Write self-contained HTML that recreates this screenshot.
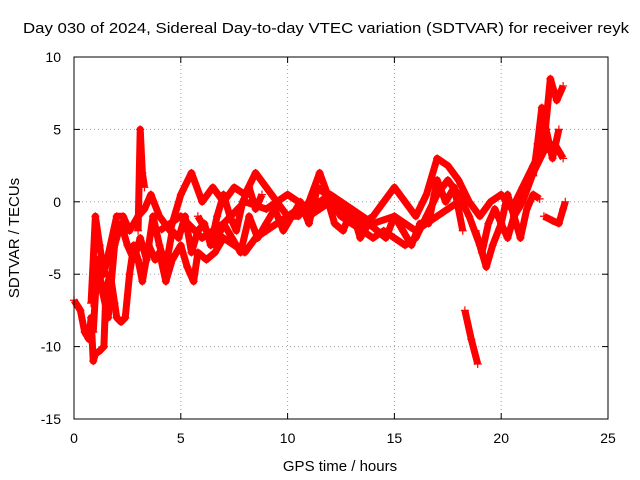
<!DOCTYPE html>
<html><head><meta charset="utf-8"><style>
body{margin:0;background:#fff}
svg{display:block;font-family:"Liberation Sans",sans-serif}
</style></head><body>
<svg id="chart" width="640" height="480">
<text x="326" y="33" font-size="15" text-anchor="middle" textLength="606" lengthAdjust="spacingAndGlyphs">Day 030 of 2024, Sidereal Day-to-day VTEC variation (SDTVAR) for receiver reyk</text>
<text x="340" y="471" font-size="15" text-anchor="middle">GPS time / hours</text>
<text x="19" y="238" font-size="15" text-anchor="middle" transform="rotate(-90 19 238)">SDTVAR / TECUs</text>
<g id="grid"></g><g id="marks"></g>
<rect x="74" y="57" width="534" height="362" fill="none" stroke="#000" stroke-width="1"/>
</svg>
<script>
const xTicks=[0,5,10,15,20,25];
const yTicks=[-15,-10,-5,0,5,10];
const trackA_t=[0,0.3,0.5,0.7,0.8,0.9,1.0,1.2,1.4,1.5,1.7,1.9,2.0,2.2,2.4,2.6,2.8,3.0,3.2,3.5,3.8,4.0,4.3,4.6,5.0,5.3,5.6,5.8,6.2,6.6,7.0,7.5,8.0,8.5,9.0,9.5,10,10.5,11,11.5,12,12.5,13,13.5,14,14.5,15,15.5,16,16.5,17,17.5,18,18.5,19,19.3,19.6,20,20.3,20.6,21,21.5,22,22.5,22.9];
const trackA_v=[-6.8,-7.5,-9,-9.5,-8,-11,-10.5,-10.3,-10,-6,-5,-7,-8,-8.3,-8,-5,-3,-4,-5.5,-3,-4,-3.5,-5.5,-4,-3,-4.5,-5.5,-3.5,-4,-3.5,-2.5,-3,-3.5,-2.5,-2,-1.5,-1,-0.5,-1,-0.5,0,-1,-1.5,-2,-2.5,-2,-2.5,-3,-2.5,-1,0.5,1.5,0.5,-1,-3,-4.5,-3,-1.5,-2.5,-1,0,2,3.5,4,3];
const trackB_t=[0.8,1.0,1.2,1.4,2,2.3,2.6,3.0,3.3,3.6,4,4.5,5,5.5,6,6.5,7,7.5,8,8.5,9,9.5,10,10.5,11,11.5,12,12.5,13,13.5,14,14.5,15,15.5,16,16.5,17,17.5,18,18.5,19,19.5,20,20.5,21,21.5,22,22.3,22.6,22.9];
const trackB_v=[-7,-1,-3,-5,-1,-1,-2,-1,-0.5,0.5,-1,-2,0.5,2,0,1,0,1,0.5,2,1,0,-1,-1,0,2,0,-0.5,-1,-1.5,-1,0,1,0,-1,0.5,3,2.5,1.5,0,-1,0,0.5,-0.5,1,2.5,4,8.5,7,8];
const trackC_t=[3.0,3.1,3.2,3.3];
const trackC_v=[-2,5,2,1];
const trackD_t=[18.3,18.6,18.9];
const trackD_v=[-7.5,-9.5,-11.2];
const trackE_t=[21.5,21.7,21.9,22.1,22.4,22.7];
const trackE_v=[1.8,4,6.5,5,3,5];
const trackF_t=[22,22.4,22.7,22.9,23];
const trackF_v=[-1,-1.3,-1.5,-0.5,0];
const trackG_t=[4,5,6,7,8,9,10,11,12,13,14,15,16,17,18];
const trackG_v=[-2,-1,-2.5,-1.5,0,-0.5,0.5,-0.5,0.5,-0.5,-1.5,-1,-2,-1,0];
const trackH_t=[0.9,1.1,1.3,1.6,1.9,2.2,2.5,2.8,3.1,3.4,3.7,4.0,4.3,4.6,4.9,5.2,5.5,5.8,6.1,6.4,6.7,7.0,7.3,7.6,7.9,8.2,8.5,8.8];
const trackH_v=[-9,-4,-6,-8,-3,-1.5,-3,-4,-2.5,-4,-1,-3,-4.5,-2,-2.5,-1,-3.5,-2,-1.5,-3,-1,0.5,-1,-2,0,1,-0.5,0.5];
const trackI_t=[5.8,6.2,6.6,7.0,7.4,7.8,8.2,8.6,9.0,9.4,9.8,10.2,10.6,11.0,11.4,11.8,12.2,12.6,13.0,13.4,13.8,14.2,14.6,15.0,15.4,15.8,16.2,16.6,17.0,17.4,17.8,18.2];
const trackI_v=[-1,-2,-3,-1.5,-2.5,-3.5,-1,-2.5,-1.5,-0.5,-2,-1,0,-1.5,1,0.5,-1.5,-2,-0.5,-2.5,-1.5,-2,-2.5,-1,-2,-3,-1.5,-1.5,1.5,0,1,-2];
const trackJ_t=[18.8,19.1,19.4,19.7,20.0,20.3,20.6,20.9,21.2,21.5,21.8];
const trackJ_v=[-2,-3.5,-1.5,-0.5,-1.5,0.5,-1,-2.5,-0.5,0.5,0.2];
const X0=74,X1=608,Y0=419,Y1=57;
const sx=v=>X0+(v-0)/(25-0)*(X1-X0);
const sy=v=>Y0-(v+15)/(25)*(Y0-Y1);
const NS="http://www.w3.org/2000/svg";
const grid=document.getElementById('grid'),marks=document.getElementById('marks');
function mk(tag,attrs,parent){const e=document.createElementNS(NS,tag);for(const k in attrs)e.setAttribute(k,attrs[k]);parent.appendChild(e);return e;}
xTicks.forEach(t=>{const x=sx(t);
 if(t>0&&t<25){const g=mk('line',{x1:x,x2:x,y1:Y1,y2:Y0,stroke:'#a0a0a0','stroke-dasharray':'1,3'},grid);
 
 }
 mk('line',{x1:x,x2:x,y1:Y0,y2:Y0-6,stroke:'#000'},grid);mk('line',{x1:x,x2:x,y1:Y1,y2:Y1+6,stroke:'#000'},grid);
 const l=mk('text',{x:x,y:443,'font-size':14,'text-anchor':'middle'},grid);l.textContent=t;
 
 });
yTicks.forEach(t=>{const y=sy(t);
 if(t>-15&&t<10){const g=mk('line',{x1:X0,x2:X1,y1:y,y2:y,stroke:'#a0a0a0','stroke-dasharray':'1,3'},grid);
 
 }
 mk('line',{x1:X0,x2:X0+6,y1:y,y2:y,stroke:'#000'},grid);mk('line',{x1:X1,x2:X1-6,y1:y,y2:y,stroke:'#000'},grid);
 const l=mk('text',{x:61,y:y+5,'font-size':14,'text-anchor':'end'},grid);l.textContent=t;
 
 });
const tracks=[[trackA_t,trackA_v],[trackB_t,trackB_v],[trackC_t,trackC_v],[trackD_t,trackD_v],[trackE_t,trackE_v],[trackF_t,trackF_v],[trackG_t,trackG_v],[trackH_t,trackH_v],[trackI_t,trackI_v],[trackJ_t,trackJ_v]];
tracks.forEach(([ts,vs],i)=>{
 const pts=ts.map((t,j)=>sx(t)+','+sy(vs[j])).join(' ');
 const pl=mk('polyline',{points:pts,fill:'none',stroke:'#f00','stroke-width':7,'stroke-linejoin':'round'},marks);
 
 
 ts.forEach((t,j)=>{const x=sx(t),y=sy(vs[j]);
  const p=mk('path',{d:`M${x-4},${y}H${x+4}M${x},${y-4}V${y+4}`,stroke:'#f00','stroke-width':1.2},marks);
  
  });
});
</script>
</body></html>
